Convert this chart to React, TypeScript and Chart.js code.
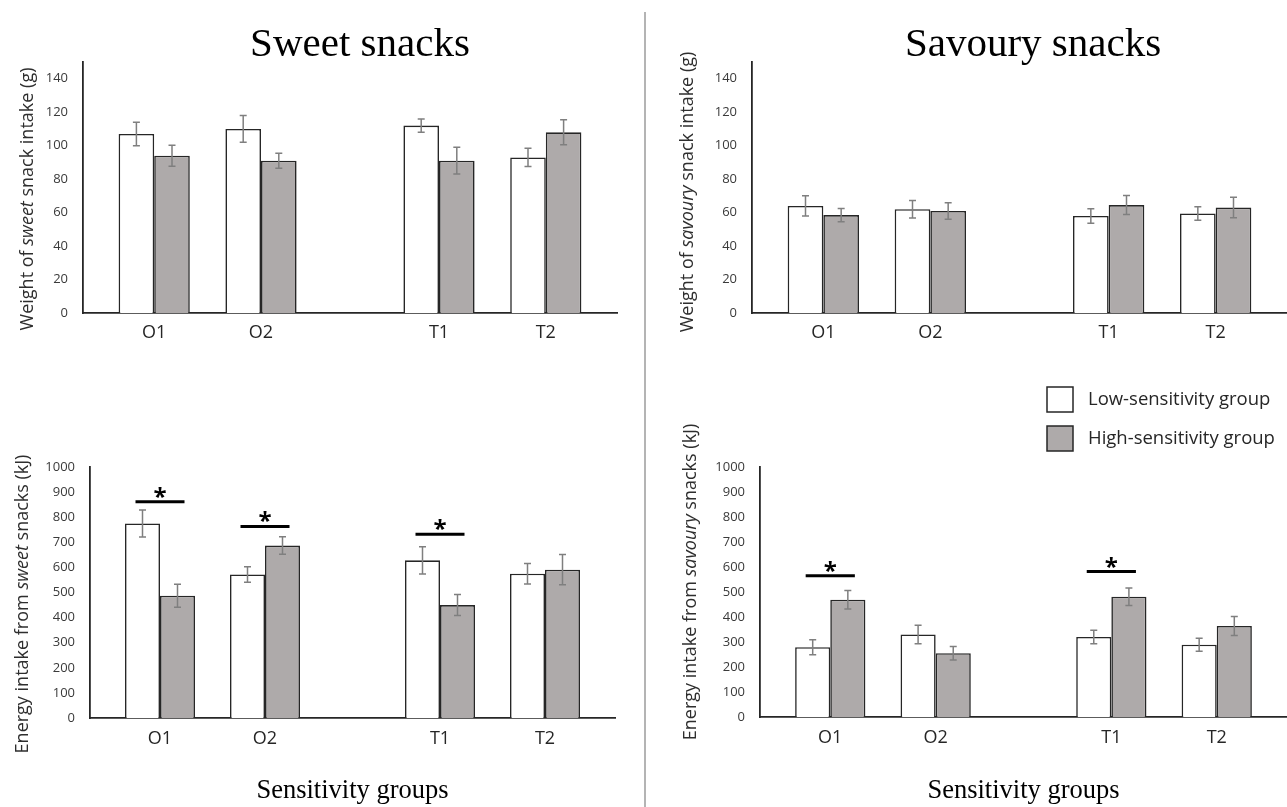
import React, { useEffect, useRef } from "react";
import { Chart, registerables } from "chart.js";

Chart.register(...registerables);

// ---------------- data ----------------
const categories = ["O1", "O2", "T1", "T2"];
const seriesLabels = ["Low-sensitivity group", "High-sensitivity group"];

const weightTickValues = [0, 20, 40, 60, 80, 100, 120, 140];
const energyTickValues = [0, 100, 200, 300, 400, 500, 600, 700, 800, 900, 1000];

// Sweet snacks – weight (g)
const sweetWeightLow = [107, 110, 112, 93];
const sweetWeightLowSE = [7, 8, 4, 5.5];
const sweetWeightHigh = [94, 91, 91, 108];
const sweetWeightHighSE = [6.3, 4.5, 8, 7.5];

// Savoury snacks – weight (g)
const savouryWeightLow = [64, 62, 58, 59.5];
const savouryWeightLowSE = [6, 5.2, 4.3, 4];
const savouryWeightHigh = [58.5, 61, 64.5, 63];
const savouryWeightHighSE = [4, 4.9, 5.7, 6.1];

// Sweet snacks – energy (kJ)
const sweetEnergyLow = [775, 572, 628, 575];
const sweetEnergyLowSE = [54, 31, 54, 41];
const sweetEnergyHigh = [487, 687, 450, 591];
const sweetEnergyHighSE = [46, 35, 42, 60];
const sweetEnergySignif = [862, 763, 732, null];

// Savoury snacks – energy (kJ)
const savouryEnergyLow = [279, 330, 320, 289];
const savouryEnergyLowSE = [30, 37, 27, 26];
const savouryEnergyHigh = [469, 255, 481, 364];
const savouryEnergyHighSE = [37, 27, 35, 38];
const savouryEnergySignif = [565, null, 582, null];

// ---------------- layout / style ----------------
const GROUP_SLOTS = [2, 5, 10, 13];
const SLOT_MAX = 15;
const SANS = "'Open Sans', 'Noto Sans', sans-serif";
const SERIF = "'Liberation Serif', 'Times New Roman', serif";
const INK = "#262626";
const LOW_FILL = "#ffffff";
const HIGH_FILL = "#aeaaaa";
const ERR = "#7f7f7f";

type Seg = { t: string; i?: boolean };
type Panel = {
  key: string;
  left: number; top: number; width: number; height: number;
  area: { left: number; right: number; top: number; bottom: number };
  padLeft: number;
  yMax: number;
  yTicks: number[];
  low: number[]; lowSE: number[]; high: number[]; highSE: number[];
  signif?: (number | null)[];
  title?: string; titlePos?: [number, number];
  yTitle: Seg[]; yTitlePos: [number, number];
  xTitle?: string;
  xTickPad: number;
  legend?: boolean;
};

const panels: Panel[] = [
  {
    key: "sweetWeight", left: 0, top: 0, width: 644, height: 350,
    area: { left: 83, right: 617, top: 62, bottom: 313 }, padLeft: 40,
    yMax: 150, yTicks: weightTickValues,
    low: sweetWeightLow, lowSE: sweetWeightLowSE, high: sweetWeightHigh, highSE: sweetWeightHighSE,
    title: "Sweet snacks", titlePos: [360, 56],
    yTitle: [{ t: "Weight of " }, { t: "sweet", i: true }, { t: " snack intake (g)" }], yTitlePos: [28, 199],
    xTickPad: 9,
  },
  {
    key: "savouryWeight", left: 646, top: 0, width: 641, height: 350,
    area: { left: 106, right: 641, top: 62, bottom: 313 }, padLeft: 60,
    yMax: 150, yTicks: weightTickValues,
    low: savouryWeightLow, lowSE: savouryWeightLowSE, high: savouryWeightHigh, highSE: savouryWeightHighSE,
    title: "Savoury snacks", titlePos: [387, 56],
    yTitle: [{ t: "Weight of " }, { t: "savoury", i: true }, { t: " snack intake (g)" }], yTitlePos: [42, 192],
    xTickPad: 9,
  },
  {
    key: "sweetEnergy", left: 0, top: 350, width: 644, height: 457,
    area: { left: 90, right: 615, top: 117, bottom: 368 }, padLeft: 40,
    yMax: 1000, yTicks: energyTickValues,
    low: sweetEnergyLow, lowSE: sweetEnergyLowSE, high: sweetEnergyHigh, highSE: sweetEnergyHighSE,
    signif: sweetEnergySignif,
    yTitle: [{ t: "Energy intake from " }, { t: "sweet", i: true }, { t: " snacks (kJ)" }], yTitlePos: [23, 254],
    xTitle: "Sensitivity groups",
    xTickPad: 10,
  },
  {
    key: "savouryEnergy", left: 646, top: 350, width: 641, height: 457,
    area: { left: 114, right: 641, top: 117, bottom: 367 }, padLeft: 60,
    yMax: 1000, yTicks: energyTickValues,
    low: savouryEnergyLow, lowSE: savouryEnergyLowSE, high: savouryEnergyHigh, highSE: savouryEnergyHighSE,
    signif: savouryEnergySignif,
    yTitle: [{ t: "Energy intake from " }, { t: "savoury", i: true }, { t: " snacks (kJ)" }], yTitlePos: [45, 232],
    xTitle: "Sensitivity groups",
    xTickPad: 10,
    legend: true,
  },
];

function drawRotatedRich(ctx: CanvasRenderingContext2D, segs: Seg[], cx: number, cy: number, size: number) {
  ctx.save();
  ctx.translate(cx, cy);
  ctx.rotate(-Math.PI / 2);
  const fonts = segs.map((s) => `${s.i ? "italic " : ""}${size}px ${SANS}`);
  const widths = segs.map((s, k) => {
    ctx.font = fonts[k];
    return ctx.measureText(s.t).width;
  });
  const total = widths.reduce((a, b) => a + b, 0);
  let x = -total / 2;
  ctx.fillStyle = "#2e2e2e";
  ctx.textAlign = "left";
  ctx.textBaseline = "middle";
  segs.forEach((s, k) => {
    ctx.font = fonts[k];
    ctx.fillText(s.t, x, 0);
    x += widths[k];
  });
  ctx.restore();
}

function makeDecor(p: Panel) {
  return {
    id: "decor_" + p.key,
    afterDatasetsDraw(chart: any) {
      const ctx: CanvasRenderingContext2D = chart.ctx;
      const xs = chart.scales.x;
      const ys = chart.scales.y;
      // error bars
      ctx.save();
      ctx.strokeStyle = ERR;
      ctx.lineWidth = 1.5;
      chart.data.datasets.forEach((ds: any, di: number) => {
        const meta = chart.getDatasetMeta(di);
        meta.data.forEach((bar: any, i: number) => {
          const v = ds.data[i].y;
          const se = ds.se[i];
          const yt = ys.getPixelForValue(v + se);
          const yb = ys.getPixelForValue(v - se);
          const cx = bar.x;
          ctx.beginPath();
          ctx.moveTo(cx, yt);
          ctx.lineTo(cx, yb);
          ctx.moveTo(cx - 3.5, yt);
          ctx.lineTo(cx + 3.5, yt);
          ctx.moveTo(cx - 3.5, yb);
          ctx.lineTo(cx + 3.5, yb);
          ctx.stroke();
        });
      });
      ctx.restore();
      // significance markers
      (p.signif || []).forEach((level, i) => {
        if (level == null) return;
        const g = GROUP_SLOTS[i];
        const x0 = xs.getPixelForValue(g - 0.7);
        const x1 = xs.getPixelForValue(g + 0.7);
        const cx = xs.getPixelForValue(g);
        const y = ys.getPixelForValue(level);
        ctx.save();
        ctx.strokeStyle = "#000";
        ctx.lineWidth = 3;
        ctx.beginPath();
        ctx.moveTo(x0, y);
        ctx.lineTo(x1, y);
        ctx.stroke();
        ctx.font = `bold 24px ${SANS}`;
        ctx.fillStyle = "#000";
        ctx.textAlign = "center";
        ctx.textBaseline = "alphabetic";
        const m = ctx.measureText("*");
        const target = y - 9.5;
        const base = target + (m.actualBoundingBoxAscent - m.actualBoundingBoxDescent) / 2;
        ctx.fillText("*", cx, base);
        ctx.restore();
      });
    },
    afterDraw(chart: any) {
      const ctx: CanvasRenderingContext2D = chart.ctx;
      if (p.title && p.titlePos) {
        ctx.save();
        ctx.font = `41px ${SERIF}`;
        ctx.fillStyle = "#000";
        ctx.textAlign = "center";
        ctx.textBaseline = "alphabetic";
        ctx.fillText(p.title, p.titlePos[0], p.titlePos[1]);
        ctx.restore();
      }
      drawRotatedRich(ctx, p.yTitle, p.yTitlePos[0], p.yTitlePos[1], 18);
      if (p.legend) {
        const boxX = 401, boxW = 26, boxH = 25, rowY = [37, 76], textX = 442;
        chart.data.datasets.forEach((ds: any, di: number) => {
          ctx.save();
          ctx.fillStyle = ds.backgroundColor;
          ctx.strokeStyle = INK;
          ctx.lineWidth = 1.5;
          ctx.fillRect(boxX, rowY[di], boxW, boxH);
          ctx.strokeRect(boxX, rowY[di], boxW, boxH);
          ctx.font = `18.5px ${SANS}`;
          ctx.fillStyle = INK;
          ctx.textAlign = "left";
          ctx.textBaseline = "middle";
          ctx.fillText(ds.label, textX, rowY[di] + boxH / 2);
          ctx.restore();
        });
      }
    },
  };
}

function buildConfig(p: Panel): any {
  const mk = (vals: number[]) => vals.map((y, i) => ({ x: GROUP_SLOTS[i], y }));
  return {
    type: "bar",
    data: {
      datasets: [
        {
          label: seriesLabels[0], data: mk(p.low), se: p.lowSE,
          backgroundColor: LOW_FILL, borderColor: INK, borderWidth: 1.6,
          categoryPercentage: 2 / 3, barPercentage: 1,
        },
        {
          label: seriesLabels[1], data: mk(p.high), se: p.highSE,
          backgroundColor: HIGH_FILL, borderColor: INK, borderWidth: 1.6,
          categoryPercentage: 2 / 3, barPercentage: 1,
        },
      ],
    },
    options: {
      responsive: false,
      animation: false,
      events: [],
      layout: { padding: { left: p.padLeft, right: p.width - p.area.right, top: p.area.top, bottom: 0 } },
      plugins: { legend: { display: false }, tooltip: { enabled: false }, title: { display: false } },
      scales: {
        x: {
          type: "linear", min: 0, max: SLOT_MAX, offset: false,
          afterBuildTicks: (s: any) => { s.ticks = GROUP_SLOTS.map((v) => ({ value: v })); },
          afterFit: (s: any) => { s.height = p.height - p.area.bottom; },
          grid: { display: false, drawTicks: false },
          border: { display: true, color: INK, width: 1.8 },
          ticks: {
            padding: p.xTickPad, color: INK, autoSkip: false, maxRotation: 0,
            font: { family: SANS, size: 18 },
            callback: (_v: any, i: number) => categories[i],
          },
          title: p.xTitle
            ? { display: true, text: p.xTitle, color: "#000", font: { family: SERIF, size: 26.5 }, padding: { top: 0, bottom: 0 } }
            : { display: false },
        },
        y: {
          min: 0, max: p.yMax,
          afterBuildTicks: (s: any) => { s.ticks = p.yTicks.map((v) => ({ value: v })); },
          afterFit: (s: any) => { s.width = p.area.left - p.padLeft; },
          grid: { display: false, drawTicks: false },
          border: { display: true, color: INK, width: 1.8 },
          ticks: {
            padding: 15, color: "#3a3a3a",
            font: { family: SANS, size: 13 },
            callback: (v: any) => String(v),
          },
        },
      },
    },
    plugins: [makeDecor(p)],
  };
}

function PanelChart({ p }: { p: Panel }) {
  const ref = useRef<HTMLCanvasElement | null>(null);
  useEffect(() => {
    if (!ref.current) return;
    const chart = new Chart(ref.current, buildConfig(p));
    return () => chart.destroy();
  }, [p]);
  return (
    <canvas
      ref={ref}
      width={p.width}
      height={p.height}
      style={{ position: "absolute", left: p.left, top: p.top, width: p.width, height: p.height, display: "block" }}
    />
  );
}

export default function App() {
  return (
    <div style={{ position: "absolute", left: 0, top: 0, width: 1287, height: 807, background: "#fff", overflow: "hidden" }}>
      <div style={{ position: "absolute", left: 644, top: 12, width: 2, height: 795, background: "#b4b4b4" }} />
      {panels.map((p) => (
        <PanelChart key={p.key} p={p} />
      ))}
    </div>
  );
}
